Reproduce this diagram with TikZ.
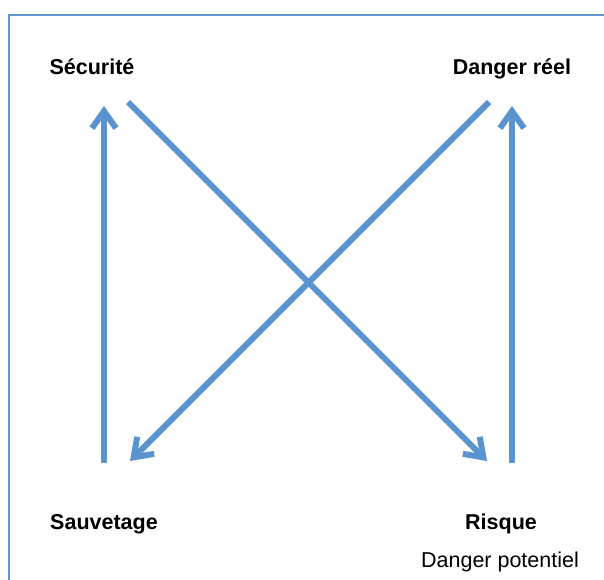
\documentclass[tikz,border=0pt]{standalone}
\usepackage{fontspec}
\setmainfont{Liberation Sans}
\usetikzlibrary{arrows.meta}
\definecolor{arrowblue}{RGB}{90,148,206}
\definecolor{frameblue}{RGB}{98,150,206}
\tikzset{
  lbl/.style={anchor=base, inner sep=0pt, font=\fontsize{21.5}{24}\selectfont\bfseries},
  sublbl/.style={anchor=base, inner sep=0pt, font=\fontsize{21.5}{24}\selectfont},
  conn/.style={draw=arrowblue, line width=6pt, -{Straight Barb[length=17pt, width=24pt]}},
}
\begin{document}
\begin{tikzpicture}[x=1pt, y=-1pt]
\useasboundingbox (0,0) rectangle (604,579);
\clip (0,0) rectangle (604,579);
\draw[frameblue, line width=2pt] (9,15) rectangle (640,620);
% labels
\node[lbl] (secu) at (92,74) {Sécurité};
\node[lbl] (dang) at (512,74) {Danger réel};
\node[lbl] (sauv) at (104,529) {Sauvetage};
\node[lbl] (risq) at (501,529) {Risque};
\node[sublbl] (pot) at (500,567) {Danger potentiel};
% arrow endpoints
\coordinate (lvBot) at (104,463);
\coordinate (lvTop) at (104,106);
\coordinate (rvBot) at (512,463);
\coordinate (rvTop) at (512,106);
\coordinate (d1Start) at (128,102);
\coordinate (d1End) at (487,461);
\coordinate (d2Start) at (489,102);
\coordinate (d2End) at (130,461);
% connectors
\draw[conn] (lvBot) -- (lvTop);
\draw[conn] (rvBot) -- (rvTop);
\draw[conn] (d1Start) -- (d1End);
\draw[conn] (d2Start) -- (d2End);
\end{tikzpicture}
\end{document}
